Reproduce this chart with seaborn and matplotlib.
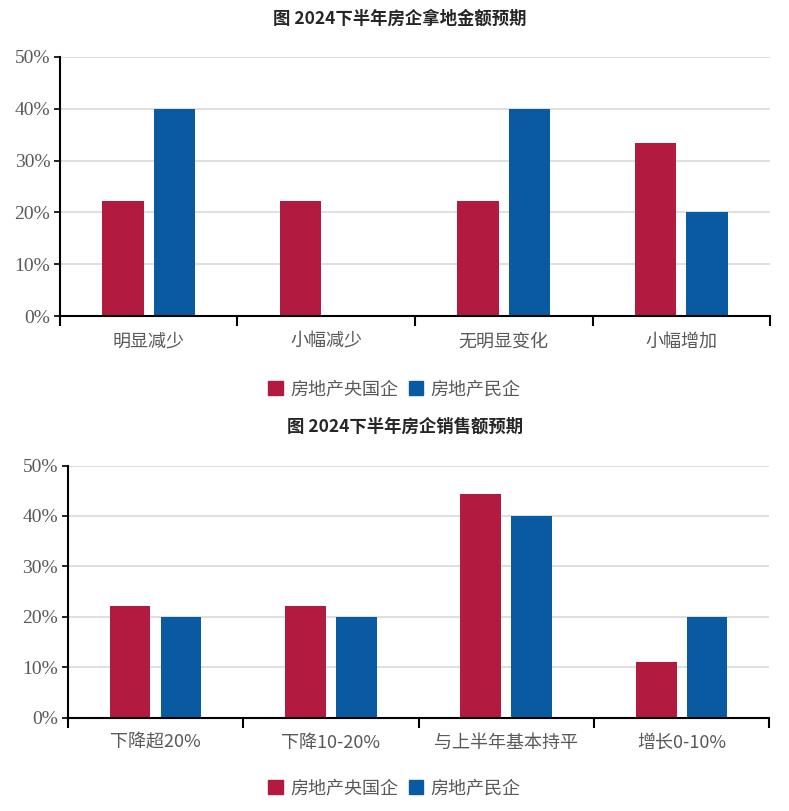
import pandas as pd
import matplotlib.pyplot as plt
import seaborn as sns
from matplotlib.ticker import PercentFormatter, FixedLocator

# 数据
land_cats = ["明显减少", "小幅减少", "无明显变化", "小幅增加"]
land_soe = [22.2, 22.2, 22.2, 33.3]
land_private = [40.0, 0.0, 40.0, 20.0]

sales_cats = ["下降超20%", "下降10-20%", "与上半年基本持平", "增长0-10%"]
sales_soe = [22.2, 22.2, 44.4, 11.1]
sales_private = [20.0, 20.0, 40.0, 20.0]

series_names = ["房地产央国企", "房地产民企"]
colors = ["#B21B3F", "#0A5AA1"]

titles = ["图 2024下半年房企拿地金额预期", "图 2024下半年房企销售额预期"]

sns.set_style("white")
plt.rcParams["font.family"] = ["Liberation Serif", "Noto Sans CJK SC"]
cjk = ["Noto Sans CJK SC", "DejaVu Sans"]


def make_df(cats, soe, private):
    rows = []
    for c, a, b in zip(cats, soe, private):
        rows.append({"cat": c, "series": series_names[0], "val": a})
        rows.append({"cat": c, "series": series_names[1], "val": b})
    return pd.DataFrame(rows)


fig = plt.figure(figsize=(7.89, 8.11), dpi=100)
ax1 = fig.add_axes([0.076, 0.610, 0.900, 0.320])
ax2 = fig.add_axes([0.086, 0.115, 0.889, 0.311])

panels = [
    (ax1, make_df(land_cats, land_soe, land_private), titles[0], 0.520, 0.478),
    (ax2, make_df(sales_cats, sales_soe, sales_private), titles[1], 0.028, 0.481),
]

for ax, df, title, leg_y, title_x in panels:
    sns.barplot(data=df, x="cat", y="val", hue="series", palette=colors,
                width=0.58, gap=0.2, saturation=1, linewidth=0,
                ax=ax, legend=False)
    ax.set_xlim(-0.5, 3.5)
    ax.set_ylim(0, 50)
    ax.set_yticks([0, 10, 20, 30, 40, 50])
    ax.yaxis.set_major_formatter(PercentFormatter(decimals=0))
    ax.set_xlabel("")
    ax.set_ylabel("")
    ax.grid(axis="y", color="#D9D9D9", linewidth=1.2)
    ax.set_axisbelow(True)
    for s in ["top", "right"]:
        ax.spines[s].set_visible(False)
    for s in ["left", "bottom"]:
        ax.spines[s].set_color("black")
        ax.spines[s].set_linewidth(1.5)
    ax.tick_params(axis="y", left=True, length=4, width=1.2, color="black",
                   labelsize=14, labelcolor="#595959", pad=3)
    ax.tick_params(axis="x", which="major", bottom=False, labelsize=13,
                   labelcolor="#595959", pad=8)
    ax.xaxis.set_minor_locator(FixedLocator([-0.5, 0.5, 1.5, 2.5, 3.5]))
    ax.tick_params(axis="x", which="minor", bottom=True, length=7, width=1.5,
                   color="black")
    for lab in ax.get_xticklabels():
        lab.set_family(cjk)
        lab.set_fontweight("light")
    ax.set_title(title, fontsize=12.5, fontweight="bold", family=cjk,
                 pad=24, x=title_x)

    handles = [plt.Rectangle((0, 0), 1, 1, color=c) for c in colors]
    leg = fig.legend(handles, series_names, loc="center",
                     bbox_to_anchor=(0.5, leg_y), ncol=2, frameon=False,
                     handlelength=0.8, handleheight=0.8, handletextpad=0.4,
                     columnspacing=0.6,
                     prop={"family": cjk, "size": 13, "weight": "light"})
    for t in leg.get_texts():
        t.set_color("#595959")

fig.savefig("out.png", dpi=100)
